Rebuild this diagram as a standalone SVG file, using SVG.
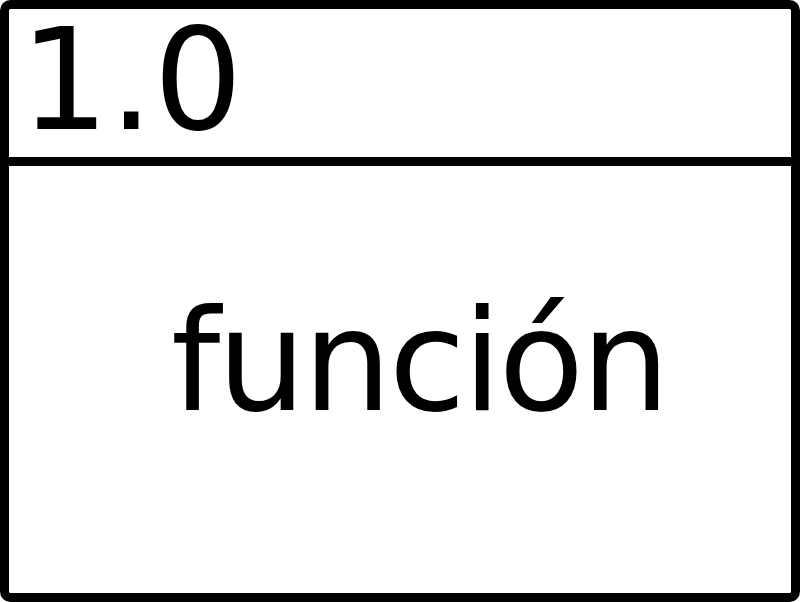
<svg xmlns="http://www.w3.org/2000/svg" width="800" height="602" viewBox="0 0 800 602">
<style>
.ln{fill:none;stroke:#000;stroke-width:9}
.t{font-family:"DejaVu Sans",Verdana,sans-serif;font-size:140px;fill:#000}
</style>
<rect width="800" height="602" fill="#fff"/>
<g id="process">
<rect class="ln" x="4.5" y="4.5" width="791" height="593" rx="6"/>
<line class="ln" x1="4.5" y1="161.5" x2="795.5" y2="161.5"/>
<text class="t" x="20" y="129">1.0</text>
<text class="t" x="171" y="410" letter-spacing="-3">función</text>
</g>
</svg>
